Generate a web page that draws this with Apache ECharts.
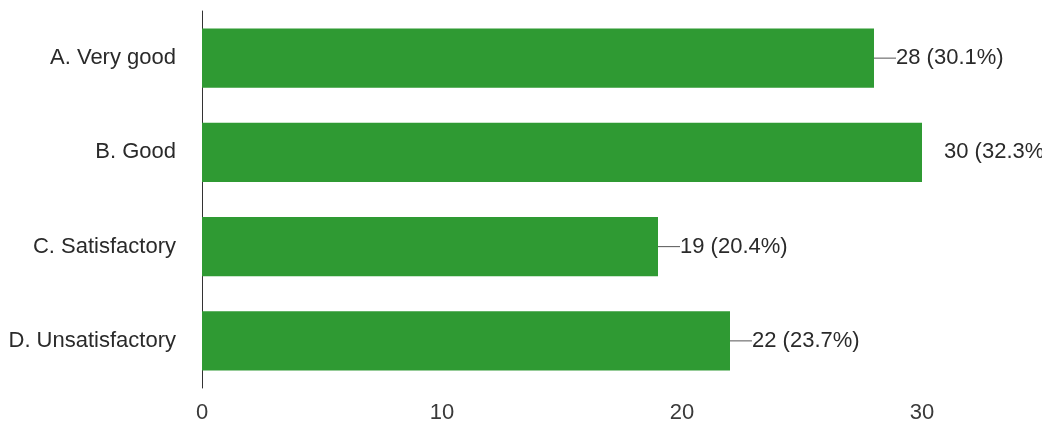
<!DOCTYPE html>
<html>
<head>
<meta charset="utf-8">
<script src="https://cdn.jsdelivr.net/npm/echarts@6/dist/echarts.min.js"></script>
<style>
  html, body { margin: 0; padding: 0; background: #fff; }
  #chart { width: 1042px; height: 429px; }
</style>
</head>
<body>
<div id="chart"></div>
<script>
const categories = ['A. Very good', 'B. Good', 'C. Satisfactory', 'D. Unsatisfactory'];
const counts = [28, 30, 19, 22];
const percents = ['30.1%', '32.3%', '20.4%', '23.7%'];
const xTicks = [0, 10, 20, 30];

const chart = echarts.init(document.getElementById('chart'));

const barData = counts.map((v, i) => ({
  value: v,
  // the "Good" label has no leader line in the original
  labelLine: { show: i !== 1 }
}));

const font = 'Liberation Sans';

chart.setOption({
  animation: false,
  backgroundColor: '#fff',
  grid: { left: 202, right: 0, top: 11, bottom: 41, outerBoundsMode: 'none' },
  xAxis: {
    type: 'value',
    min: 0,
    max: 35,
    interval: 10,
    axisLine: { show: false },
    axisTick: { show: false },
    splitLine: { show: false },
    axisLabel: {
      margin: 14,
      fontSize: 22,
      color: '#3a3a3a',
      fontFamily: font,
      formatter: v => (xTicks.includes(v) ? String(v) : '')
    }
  },
  yAxis: {
    type: 'category',
    inverse: true,
    data: categories,
    axisLine: { show: true, lineStyle: { color: '#333', width: 1 } },
    axisTick: { show: false },
    axisLabel: {
      margin: 26,
      fontSize: 22,
      color: '#2a2a2a',
      fontFamily: font
    }
  },
  series: [{
    type: 'bar',
    data: barData,
    barCategoryGap: '37%',
    itemStyle: { color: '#2f9a33' },
    label: {
      show: true,
      position: 'right',
      distance: 0,
      fontSize: 22,
      color: '#2a2a2a',
      fontFamily: font,
      formatter: p => counts[p.dataIndex] + ' (' + percents[p.dataIndex] + ')'
    },
    labelLayout: { dx: 22 },
    labelLine: { show: true, lineStyle: { color: '#555', width: 1 } }
  }]
});
</script>
</body>
</html>
